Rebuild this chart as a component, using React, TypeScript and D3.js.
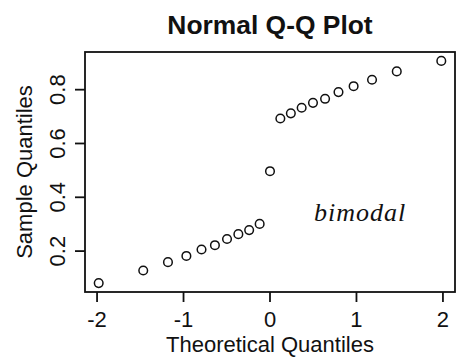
import React from "react";
import * as d3 from "d3";

const theoretical = [
  -1.981, -1.466, -1.18, -0.967, -0.792, -0.637, -0.497, -0.366, -0.241, -0.1196,
  0,
  0.1196, 0.241, 0.366, 0.497, 0.637, 0.792, 0.967, 1.18, 1.466, 1.981,
];
const sample = [
  0.081, 0.128, 0.159, 0.182, 0.206, 0.222, 0.245, 0.263, 0.278, 0.301,
  0.497,
  0.693, 0.712, 0.733, 0.751, 0.766, 0.791, 0.813, 0.837, 0.868, 0.907,
];
const xTicks = [-2, -1, 0, 1, 2];
const yTicks = [0.2, 0.4, 0.6, 0.8];
const title = "Normal Q-Q Plot";
const xLabel = "Theoretical Quantiles";
const yLabel = "Sample Quantiles";
const note = "bimodal";

const W = 460;
const H = 358;
const L = 85, R = 455, T = 52, B = 292;

function expand(ext: [number, number]): [number, number] {
  const d = (ext[1] - ext[0]) * 0.04;
  return [ext[0] - d, ext[1] + d];
}

export default function App() {
  const x = d3.scaleLinear().domain(expand(d3.extent(theoretical) as [number, number])).range([L, R]);
  const y = d3.scaleLinear().domain(expand(d3.extent(sample) as [number, number])).range([B, T]);
  const font = "Liberation Sans, Arial, sans-serif";
  const ink = "#111";
  return (
    <svg width={W} height={H} style={{ position: "absolute", left: 0, top: 0 }}>
      <rect x={0} y={0} width={W} height={H} fill="#fff" />
      <text x={(L + R) / 2} y={34} textAnchor="middle" fontFamily={font} fontWeight="bold" fontSize={26.4} fill={ink}>
        {title}
      </text>
      <rect x={L} y={T} width={R - L} height={B - T} fill="none" stroke={ink} strokeWidth={1.8} />
      {xTicks.map((t) => (
        <g key={"x" + t}>
          <line x1={x(t)} x2={x(t)} y1={B} y2={B + 10} stroke={ink} strokeWidth={1.8} />
          <text x={x(t)} y={327} textAnchor="middle" fontFamily={font} fontSize={22} fill={ink}>
            {t}
          </text>
        </g>
      ))}
      {yTicks.map((t) => (
        <g key={"y" + t}>
          <line x1={L - 10} x2={L} y1={y(t)} y2={y(t)} stroke={ink} strokeWidth={1.8} />
          <text
            transform={`translate(65,${y(t)}) rotate(-90)`}
            textAnchor="middle"
            fontFamily={font}
            fontSize={22}
            fill={ink}
          >
            {t.toFixed(1)}
          </text>
        </g>
      ))}
      <text x={(L + R) / 2} y={352} textAnchor="middle" fontFamily={font} fontSize={22} fill={ink}>
        {xLabel}
      </text>
      <text
        transform={`translate(32,${(T + B) / 2}) rotate(-90)`}
        textAnchor="middle"
        fontFamily={font}
        fontSize={22}
        fill={ink}
      >
        {yLabel}
      </text>
      {theoretical.map((t, i) => (
        <circle key={i} cx={x(t)} cy={y(sample[i])} r={4.3} fill="none" stroke={ink} strokeWidth={1.5} />
      ))}
      <text
        x={314}
        y={221}
        fontFamily="Liberation Serif, Times New Roman, serif"
        fontStyle="italic"
        fontSize={26}
        letterSpacing={1}
        fill={ink}
      >
        {note}
      </text>
    </svg>
  );
}
